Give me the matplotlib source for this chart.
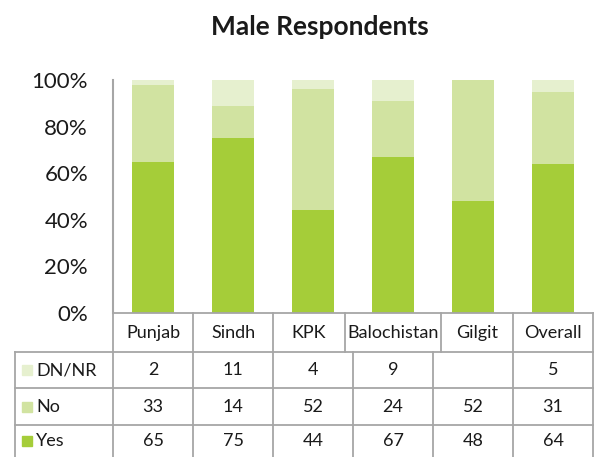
import matplotlib.pyplot as plt
import matplotlib.transforms as mtransforms
from matplotlib.patches import Rectangle
import numpy as np

plt.rcParams['font.family'] = ['Lato', 'DejaVu Sans']

regions = ['Punjab', 'Sindh', 'KPK', 'Balochistan', 'Gilgit', 'Overall']
yes = [65, 75, 44, 67, 48, 64]
no = [33, 14, 52, 24, 52, 31]
dnnr = [2, 11, 4, 9, 0, 5]
dnnr_labels = ['2', '11', '4', '9', '', '5']

c_yes = '#A5CD39'
c_no = '#D1E3A1'
c_dn = '#E6F0CF'
grid_c = '#A6A6A6'

fig = plt.figure(figsize=(5.95, 4.57), dpi=100)
# axes box in pixels: x 113..593, y 80..313
W, H = 595, 457
ax = fig.add_axes([113 / W, 1 - 313 / H, 480 / W, 233 / H])

x = np.arange(len(regions))
ax.bar(x, yes, width=0.52, color=c_yes)
ax.bar(x, no, width=0.52, bottom=yes, color=c_no)
ax.bar(x, dnnr, width=0.52, bottom=np.array(yes) + np.array(no), color=c_dn)

ax.set_xlim(-0.5, 5.5)
ax.set_ylim(0, 100)
ax.set_yticks(range(0, 101, 20))
ax.set_yticklabels([f'{v}%' for v in range(0, 101, 20)], fontsize=16, color='#1a1a1a')
ax.tick_params(axis='y', length=0, pad=18)
ax.set_xticks([])
for s in ['top', 'right', 'bottom']:
    ax.spines[s].set_visible(False)
ax.spines['left'].set_color(grid_c)
ax.spines['left'].set_linewidth(1.5)

fig.text(320 / W, 1 - 27 / H, 'Male Respondents', ha='center', va='center',
         fontsize=19, fontweight='bold', color='#1a1a1a')

# data table below the bars
tr = mtransforms.blended_transform_factory(ax.transData, ax.transAxes)

def ay(py):
    return -(py - 313) / 233

hdr_edges = [-0.5, 0.5, 1.5, 2.4, 3.6, 4.5, 5.5]
col_edges = [i - 0.5 for i in range(len(regions) + 1)]
left_edge = -0.5 - 98 / 80
row_lines = [ay(352), ay(388), ay(425)]
bottom = ay(470)

kw = dict(color=grid_c, lw=1.3, transform=tr, clip_on=False)
# header row
ax.plot([-0.5, 5.5], [0, 0], **kw)
for e in hdr_edges:
    ax.plot([e, e], [0, row_lines[0]], **kw)
for i, r in enumerate(regions):
    ax.text((hdr_edges[i] + hdr_edges[i + 1]) / 2, ay(333), r, transform=tr,
            ha='center', va='center', fontsize=13, color='#1a1a1a')

# body rows
for yl in row_lines:
    ax.plot([left_edge, 5.5], [yl, yl], **kw)
for e in [left_edge] + col_edges:
    ax.plot([e, e], [row_lines[0], bottom], **kw)

rows = [('DN/NR', c_dn, dnnr_labels),
        ('No', c_no, [str(v) for v in no]),
        ('Yes', c_yes, [str(v) for v in yes])]
centers = [ay(370), ay(407), ay(441)]
for (name, col, vals), yc in zip(rows, centers):
    ax.add_patch(Rectangle((left_edge + 7 / 80, yc - 0.021), 10 / 80, 0.043,
                           color=col, transform=tr, clip_on=False))
    ax.text(left_edge + 21 / 80, yc, name, transform=tr, ha='left', va='center',
            fontsize=13, color='#1a1a1a')
    for i, v in enumerate(vals):
        ax.text(i, yc, v, transform=tr, ha='center', va='center',
                fontsize=13, color='#1a1a1a')

fig.savefig('out.png', dpi=100)
